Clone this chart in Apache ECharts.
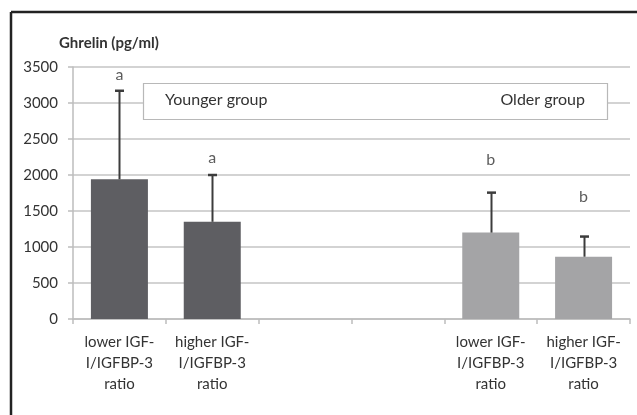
<!DOCTYPE html>
<html><head><meta charset="utf-8">
<script src="https://cdn.jsdelivr.net/npm/echarts@6/dist/echarts.min.js"></script>
<style>html,body{margin:0;padding:0;background:#fff}#c{width:637px;height:415px}</style>
</head><body><div id="c"></div>
<script>
const categories = ['lower IGF-\nI/IGFBP-3\nratio','higher IGF-\nI/IGFBP-3\nratio','','','lower IGF-\nI/IGFBP-3\nratio','higher IGF-\nI/IGFBP-3\nratio'];
const means = [1940, 1350, null, null, 1200, 865];
const errTop = [3170, 2000, null, null, 1755, 1145];
const letters = ['a','a','','','b','b'];
const letterPos = [3390, 2240, null, null, 2210, 1700];
const barColors = ['#5e5e62','#5e5e62','#5e5e62','#5e5e62','#a4a4a6','#a4a4a6'];
const yTicks = [0,500,1000,1500,2000,2500,3000,3500];
const groupLabels = ['Younger group','Older group'];
const FONT = 'Lato';
const chart = echarts.init(document.getElementById('c'));
chart.setOption({
  animation:false,
  textStyle:{fontFamily:FONT},
  grid:{left:73,right:7,top:67,bottom:96},
  xAxis:{type:'category',data:categories,
    axisLine:{lineStyle:{color:'#bdbdbd',width:1.5}},
    axisTick:{show:true,length:5,lineStyle:{color:'#bdbdbd',width:1.5}},
    axisLabel:{color:'#333',fontSize:15,lineHeight:21,margin:13,interval:0,fontFamily:FONT}},
  yAxis:{type:'value',min:yTicks[0],max:yTicks[yTicks.length-1],interval:500,
    axisLine:{show:true,lineStyle:{color:'#bdbdbd',width:1.5}},
    axisTick:{show:true,length:5,lineStyle:{color:'#bdbdbd',width:1.5}},
    splitLine:{lineStyle:{color:'#c4c4c4',width:1.5}},
    axisLabel:{color:'#333',fontSize:15,margin:15,fontFamily:FONT,formatter:v=>String(v)}},
  graphic:[
    {type:'line',shape:{x1:11,y1:12,x2:637,y2:12},style:{stroke:'#222',lineWidth:2.5}},
    {type:'line',shape:{x1:11,y1:12,x2:11,y2:415},style:{stroke:'#222',lineWidth:2.5}},
    {type:'text',left:59,top:36,style:{text:'Ghrelin (pg/ml)',font:'bold 15px '+FONT,fill:'#333'}},
    {type:'rect',z:10,shape:{x:143.5,y:83.5,width:464,height:36},style:{fill:'#fff',stroke:'#b8b8b8',lineWidth:1.2}},
    {type:'text',z:11,left:165,top:92,style:{text:groupLabels[0],font:'16px '+FONT,fill:'#333'}},
    {type:'text',z:11,right:52,top:92,style:{text:groupLabels[1],font:'16px '+FONT,fill:'#333'}}
  ],
  series:[
    {type:'bar',barWidth:57,data:means.map((v,i)=>({value:v,itemStyle:{color:barColors[i]}}))},
    {type:'custom',z:5,data:categories.map((c,i)=>[i,means[i],errTop[i]]),
     renderItem:function(params,api){
       const m=api.value(1), t=api.value(2);
       if(m==null||t==null||isNaN(m)||isNaN(t)) return;
       const p0=api.coord([api.value(0),m]); const p1=api.coord([api.value(0),t]);
       const x=Math.round(p0[0])+0.5;
       return {type:'group',children:[
         {type:'line',shape:{x1:x,y1:p0[1],x2:x,y2:p1[1]},style:{stroke:'#3c3c3c',lineWidth:2}},
         {type:'line',shape:{x1:x-4.5,y1:p1[1],x2:x+4.5,y2:p1[1]},style:{stroke:'#3c3c3c',lineWidth:2.5}}
       ]};
     }},
    {type:'scatter',symbolSize:0,silent:true,itemStyle:{color:'transparent'},
     data:categories.map((c,i)=>({value:[i,letterPos[i]],name:letters[i]})),
     label:{show:true,position:'inside',formatter:p=>p.name,color:'#333',fontSize:16,fontFamily:FONT}}
  ]
});
</script></body></html>
